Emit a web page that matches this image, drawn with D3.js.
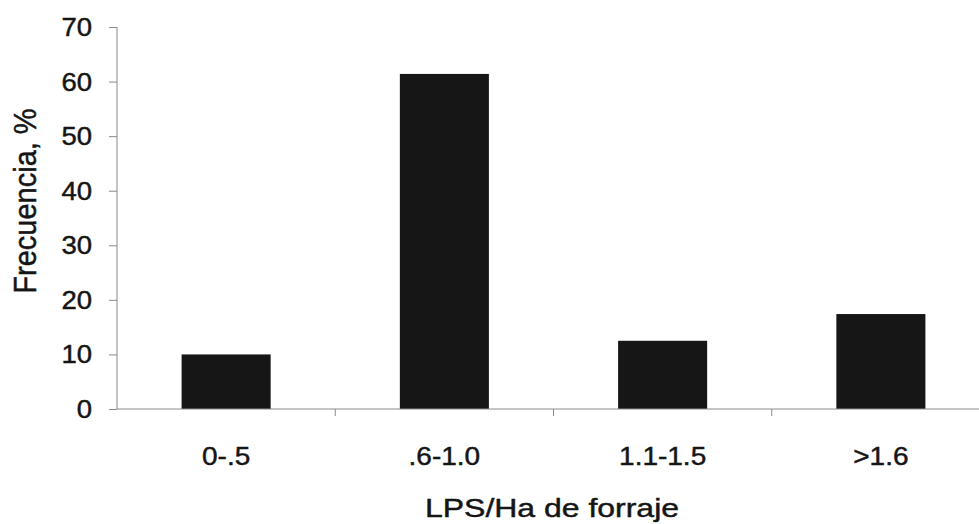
<!DOCTYPE html>
<html>
<head>
<meta charset="utf-8">
<script src="https://cdn.jsdelivr.net/npm/d3@7"></script>
<style>
  html, body { margin: 0; padding: 0; background: #fff; }
  svg { display: block; }
  text { font-family: "Liberation Sans", Arial, sans-serif; fill: #151515; stroke: #151515; stroke-width: 0.45px; }
</style>
</head>
<body>
<svg id="chart" width="979" height="524"></svg>
<script>
// Frequency of farms by LPS per hectare of forage
const categories = ["0-.5", ".6-1.0", "1.1-1.5", ">1.6"];
const frecuencia = [10, 61.4, 12.5, 17.4];
const yTicks = [0, 10, 20, 30, 40, 50, 60, 70];
const xTitle = "LPS/Ha de forraje";
const yTitle = "Frecuencia, %";

const svg = d3.select("#chart");
const W = 979, H = 524;
const plotLeft = 117, plotRight = 990, plotTop = 27, plotBottom = 409;

const x = d3.scaleBand()
  .domain(categories)
  .range([plotLeft, plotRight])
  .paddingInner(0.592)
  .paddingOuter(0.296);

const y = d3.scaleLinear().domain([0, 70]).range([plotBottom, plotTop]);

const axisColor = "#8a8a8a";

// bars
svg.append("g")
  .selectAll("rect")
  .data(categories)
  .join("rect")
  .attr("x", d => x(d))
  .attr("width", x.bandwidth())
  .attr("y", (d, i) => y(frecuencia[i]))
  .attr("height", (d, i) => y(0) - y(frecuencia[i]))
  .attr("fill", "#161616");

// y axis
const yAxis = svg.append("g").attr("transform", `translate(${plotLeft},0)`)
  .call(d3.axisLeft(y).tickValues(yTicks).tickSize(8).tickFormat(""));
yAxis.select(".domain").attr("stroke", axisColor).attr("d", `M0,${plotTop}V${plotBottom}`);
yAxis.selectAll(".tick line").attr("stroke", axisColor);

// y tick labels (slightly widened type)
svg.append("g").selectAll("text")
  .data(yTicks)
  .join("text")
  .attr("transform", d => `translate(92,${y(d) + 9}) scale(1.1,1)`)
  .attr("text-anchor", "end")
  .attr("font-size", 25)
  .text(d => d);

// x axis with ticks between categories
const step = x.step();
const boundaries = categories.slice(0, -1).map(d => x(d) + x.bandwidth() + (step - x.bandwidth()) / 2);
const xg = svg.append("g");
xg.append("line")
  .attr("x1", plotLeft).attr("x2", W)
  .attr("y1", y(0)).attr("y2", y(0))
  .attr("stroke", axisColor).attr("stroke-width", 1);
xg.selectAll("line.tk")
  .data(boundaries)
  .join("line")
  .attr("class", "tk")
  .attr("x1", d => d).attr("x2", d => d)
  .attr("y1", y(0)).attr("y2", y(0) + 7)
  .attr("stroke", axisColor);

// category labels
svg.append("g").selectAll("text")
  .data(categories)
  .join("text")
  .attr("transform", d => `translate(${x(d) + x.bandwidth() / 2},465) scale(1.12,1)`)
  .attr("text-anchor", "middle")
  .attr("font-size", 25)
  .text(d => d);

// axis titles
svg.append("text")
  .attr("transform", `translate(552,517) scale(1.23,1)`)
  .attr("text-anchor", "middle")
  .attr("font-size", 26)
  .text(xTitle);

svg.append("text")
  .attr("transform", `translate(36,201) scale(1.1,1) rotate(-90)`)
  .attr("text-anchor", "middle")
  .attr("font-size", 29)
  .text(yTitle);
</script>
</body>
</html>
